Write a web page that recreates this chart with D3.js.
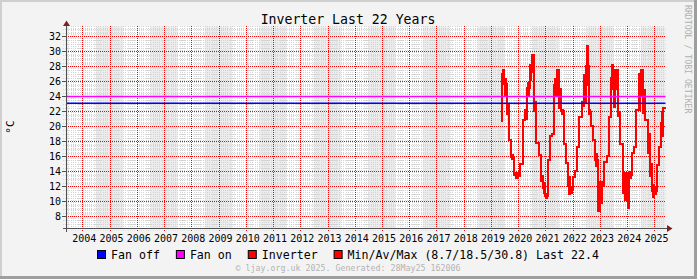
<!DOCTYPE html>
<html><head><meta charset="utf-8">
<script src="https://cdn.jsdelivr.net/npm/d3@7"></script>
<style>
html,body{margin:0;padding:0;background:#f3f3f3;}
svg{display:block;font-family:"DejaVu Sans Mono",monospace;}
</style>
</head><body>
<svg id="c" width="697" height="279"></svg>
<script>
const title = "Inverter Last 22 Years";
const yUnit = "°C";
const months = ["2019-05","2019-06","2019-07","2019-08","2019-09","2019-10","2019-11","2019-12",
"2020-01","2020-02","2020-03","2020-04","2020-05","2020-06","2020-07","2020-08","2020-09","2020-10","2020-11","2020-12",
"2021-01","2021-02","2021-03","2021-04","2021-05","2021-06","2021-07","2021-08","2021-09","2021-10","2021-11","2021-12",
"2022-01","2022-02","2022-03","2022-04","2022-05","2022-06","2022-07","2022-08","2022-09","2022-10","2022-11","2022-12",
"2023-01","2023-02","2023-03","2023-04","2023-05","2023-06","2023-07","2023-08","2023-09","2023-10","2023-11","2023-12",
"2024-01","2024-02","2024-03","2024-04","2024-05","2024-06","2024-07","2024-08","2024-09","2024-10","2024-11","2024-12",
"2025-01","2025-02","2025-03","2025-04","2025-05"];
const avgT = [20.7,27.0,25.6,22.2,18.2,15.9,13.6,13.4,
13.6,15.0,20.9,21.8,25.1,27.2,29.1,22.6,17.8,16.2,13.1,11.8,
10.8,15.5,18.7,19.0,25.5,26.5,23.5,22.0,17.6,15.1,12.0,11.5,
13.3,14.0,17.3,21.3,23.0,25.5,28.0,21.9,20.0,18.2,15.5,10.5,
11.5,12.4,15.2,16.0,21.3,26.5,25.0,26.0,21.6,17.7,12.2,12.0,
11.5,13.5,16.4,17.3,22.2,25.0,26.2,23.0,20.9,17.5,14.0,11.4,
11.4,14.9,17.3,20.5,22.4];
const minT = [20.7,26.2,24.2,21.6,18.2,15.6,13.5,13.1,
13.3,15.0,20.9,21.0,24.0,26.2,28.6,22.0,17.8,16.2,12.7,11.1,
10.4,15.5,18.7,19.0,24.0,24.0,22.4,21.6,17.6,15.1,10.9,11.1,
13.3,14.0,17.3,21.3,22.7,23.1,25.5,21.6,20.0,18.2,14.7,8.7,
9.8,12.0,15.2,16.0,21.3,24.9,22.5,24.9,21.3,17.7,11.1,10.2,
9.1,13.1,16.4,17.3,22.2,22.2,24.0,21.8,20.9,16.4,13.3,10.6,
10.9,14.9,17.3,18.7,22.4];
const maxT = [20.7,27.6,26.4,23.0,18.2,16.2,13.8,13.8,
14.0,15.0,20.9,22.2,25.8,28.2,29.6,23.3,17.8,16.2,13.5,12.5,
11.1,15.5,18.7,19.0,26.4,27.6,25.0,22.2,17.6,15.1,13.3,12.0,
13.3,14.0,17.3,21.3,23.3,26.9,30.8,22.2,20.0,18.2,16.4,12.7,
12.7,12.7,15.2,16.0,21.3,28.2,27.6,27.6,22.0,17.7,13.3,13.8,
13.8,14.0,16.4,17.3,22.2,27.1,27.6,24.9,20.9,19.1,15.1,12.2,
12.0,14.9,17.3,22.0,22.4];
const fanOff = 23.1, fanOn = 24;
const yTicks = [8,10,12,14,16,18,20,22,24,26,28,30,32];
const yearTicks = d3.range(2004, 2026);
const legendLabels = ["Fan off","Fan on","Inverter","Min/Av/Max (8.7/18.5/30.8) Last 22.4"];
const legendColors = ["#0000ff","#ff00ff","#ff0000","#ff0000"];
const footer = "\u00a9 ljay.org.uk  2025. Generated: 28May25 162006";
const sideText = "RRDTOOL / TOBI OETIKER";
const tStart = new Date(2003,4,28,16,20), tEnd = new Date(2025,4,28,16,20);

const svg = d3.select("#c");
const W = 697, H = 279;
const x = d3.scaleTime().domain([tStart,tEnd]).range([66, 665.5]);
const y = d3.scaleLinear().domain([6.4, 33.333]).range([228.5, 26.5]);
const X0 = 66, X1 = 665.5, Y0 = 26.5, Y1 = 228.5;
const px = v => Math.round(v) + 0.5;

// background + 3D border
svg.append("rect").attr("width",W).attr("height",H).attr("fill","#f3f3f3");
svg.append("rect").attr("x",0).attr("y",0).attr("width",W).attr("height",2).attr("fill","#cfcfcf");
svg.append("rect").attr("x",0).attr("y",0).attr("width",2).attr("height",H).attr("fill","#cfcfcf");
svg.append("rect").attr("x",W-3).attr("y",0).attr("width",3).attr("height",H).attr("fill","#9e9e9e");
svg.append("rect").attr("x",0).attr("y",H-3).attr("width",W).attr("height",3).attr("fill","#9e9e9e");

// canvas
svg.append("rect").attr("x",X0).attr("y",Y0).attr("width",X1-X0).attr("height",Y1-Y0).attr("fill","#ffffff");

// shaded alternate-year bands
const bands = d3.range(2003, 2026, 2).map(yr => [new Date(yr-1,6,1), new Date(yr,6,1)]);
svg.append("g").selectAll("rect").data(bands).join("rect")
  .attr("x", d => Math.max(X0, x(d[0])))
  .attr("width", d => Math.max(0, Math.min(X1, x(d[1])) - Math.max(X0, x(d[0]))))
  .attr("y", Y0).attr("height", Y1-Y0).attr("fill","#ececec");

// minor grid
const gMin = svg.append("g").attr("stroke","#d4d4d4").attr("stroke-width",1)
  .attr("stroke-dasharray","1,1");
const monthTicks = d3.timeMonth.range(d3.timeMonth.ceil(tStart), tEnd).filter(d => d.getMonth() !== 0);
gMin.selectAll("line.v").data(monthTicks).join("line").attr("class","v")
  .attr("x1", d => px(x(d))).attr("x2", d => px(x(d))).attr("y1", Y0 - 0.5).attr("y2", Y1 + 2);
const minorY = d3.range(6.5, 33.5, 0.5).filter(v => v % 2 !== 0);
gMin.selectAll("line.h").data(minorY).join("line").attr("class","h")
  .attr("x1", X0 - 3).attr("x2", X1).attr("y1", d => px(y(d))).attr("y2", d => px(y(d)));

// major grid
const gMaj = svg.append("g").attr("stroke","#ff0000").attr("stroke-width",1)
  .attr("stroke-dasharray","1,1");
gMaj.selectAll("line.v").data(yearTicks).join("line").attr("class","v")
  .attr("x1", d => px(x(new Date(d,0,1)))).attr("x2", d => px(x(new Date(d,0,1))))
  .attr("y1", Y0 - 0.5).attr("y2", Y1 + 2.5);
gMaj.selectAll("line.h").data(yTicks).join("line").attr("class","h")
  .attr("x1", X0).attr("x2", X1).attr("y1", d => px(y(d))).attr("y2", d => px(y(d)));
// major ticks on y axis
svg.append("g").attr("stroke","#4f4f4f").attr("shape-rendering","crispEdges")
  .selectAll("line").data(yTicks).join("line")
  .attr("x1", X0 - 4).attr("x2", X0).attr("y1", d => px(y(d))).attr("y2", d => px(y(d)));

// data
const parseM = d3.timeParse("%Y-%m");
const rows = months.map((m,i) => ({t: parseM(m), avg: avgT[i], lo: minT[i], hi: maxT[i]}));
if (rows.length) {
  const last = rows[rows.length-1];
  rows[0].t = new Date(rows[0].t.getTime() + 14*864e5);
  rows.push({t: tEnd, avg: last.avg, lo: last.lo, hi: last.hi});
}
const area = d3.area().curve(d3.curveStepAfter).x(d => x(d.t)).y0(d => y(d.lo)).y1(d => y(d.hi));
svg.append("path").datum(rows).attr("d", area).attr("fill","#ff0000").attr("stroke","#ff0000")
  .attr("stroke-width",1.2).attr("shape-rendering","crispEdges");
const line = d3.line().curve(d3.curveStepAfter).x(d => x(d.t)).y(d => y(d.avg));
svg.append("path").datum(rows).attr("d", line).attr("fill","none").attr("stroke","#ff0000")
  .attr("stroke-width",2).attr("shape-rendering","crispEdges");

// fan thresholds
svg.append("line").attr("x1",X0).attr("x2",X1).attr("y1",y(fanOn)).attr("y2",y(fanOn))
  .attr("stroke","#ff00ff").attr("stroke-width",1.6);
svg.append("line").attr("x1",X0).attr("x2",X1).attr("y1",y(fanOff)).attr("y2",y(fanOff))
  .attr("stroke","#0000ff").attr("stroke-width",1.6);

// axes
svg.append("line").attr("x1",X0+0.5).attr("x2",X0+0.5).attr("y1",Y1+3).attr("y2",Y0-3)
  .attr("stroke","#4f4f4f").attr("shape-rendering","crispEdges");
svg.append("line").attr("x1",X0-3).attr("x2",X1+3).attr("y1",Y1).attr("y2",Y1)
  .attr("stroke","#4f4f4f").attr("shape-rendering","crispEdges");
svg.append("path").attr("d",`M${X0-3},${Y0-0.5}L${X0+4},${Y0-0.5}L${X0+0.5},${Y0-6}Z`).attr("fill","#7f1f1f");
svg.append("path").attr("d",`M${X1+1.5},${Y1-3.5}L${X1+1.5},${Y1+3.5}L${X1+7},${Y1}Z`).attr("fill","#7f1f1f");

// y labels
svg.append("g").attr("font-size",10).attr("fill","#000").attr("text-anchor","end")
  .selectAll("text").data(yTicks).join("text")
  .attr("x", 61).attr("y", d => y(d) + 3.5).text(d => d);
// x labels
svg.append("g").attr("font-size",10).attr("fill","#000").attr("text-anchor","middle")
  .selectAll("text").data(yearTicks).join("text")
  .attr("x", d => x(new Date(d,0,1)) + 2).attr("y", 242).text(d => d);

// title
svg.append("text").attr("x",348).attr("y",24).attr("text-anchor","middle")
  .attr("font-size",13.2).attr("fill","#000").text(title);
// y unit
svg.append("text").attr("transform","translate(14,127) rotate(-90)").attr("text-anchor","middle")
  .attr("font-size",11).attr("fill","#000").text(yUnit);
// side text
svg.append("text").attr("transform","translate(685,5) rotate(90)")
  .attr("font-size",8.2).attr("fill","#b0b0b0").text(sideText);
// footer
svg.append("text").attr("x",348).attr("y",271).attr("text-anchor","middle")
  .attr("font-size",8.3).attr("fill","#b4b4b4").text(footer);

// legend
const lg = svg.append("g").attr("font-size",11.6).attr("fill","#000");
let lx = 97;
legendLabels.forEach((lab,i) => {
  lg.append("rect").attr("x",lx+0.5).attr("y",250.5).attr("width",8).attr("height",8)
    .attr("fill",legendColors[i]).attr("stroke","#000").attr("stroke-width",1);
  const t = lg.append("text").attr("x",lx+14).attr("y",258.5).text(lab);
  lx = lx + 14 + t.node().getComputedTextLength() + 16;
});
</script>
</body></html>
